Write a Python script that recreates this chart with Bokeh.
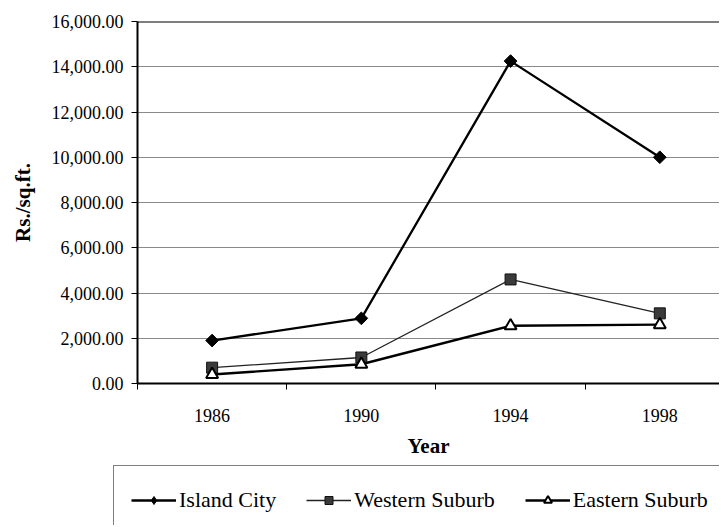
import numpy as np
from bokeh.plotting import figure
from bokeh.layouts import column, row
from bokeh.models import (Range1d, FixedTicker, NumeralTickFormatter, Span,
                          Legend, LegendItem)
from bokeh.embed import file_html
from bokeh.resources import INLINE

years = [1986, 1990, 1994, 1998]
island_city = [1900, 2880, 14250, 10000]
western_suburb = [700, 1150, 4600, 3100]
eastern_suburb = [400, 850, 2550, 2600]
series_names = ["Island City", "Western Suburb", "Eastern Suburb"]
y_ticks = [0, 2000, 4000, 6000, 8000, 10000, 12000, 14000, 16000]
year_bounds = [1984, 1988, 1992, 1996, 2000]

FONT = "Liberation Serif"
W = 719

p = figure(width=W, height=462, output_backend="svg", toolbar_location=None,
           x_range=Range1d(1984, 1999.6), y_range=Range1d(0, 16000),
           min_border_left=137, min_border_right=0, min_border_top=21,
           min_border_bottom=79)
p.outline_line_color = None
p.background_fill_color = "white"
p.border_fill_color = "white"

p.xgrid.grid_line_color = None
p.ygrid.grid_line_color = "#8a8a8a"
p.ygrid.grid_line_width = 1

# y axis
p.yaxis.ticker = FixedTicker(ticks=y_ticks)
p.yaxis.formatter = NumeralTickFormatter(format="0,0.00")
p.yaxis.axis_label = "Rs./sq.ft."
p.yaxis.axis_label_text_font = FONT
p.yaxis.axis_label_text_font_style = "bold"
p.yaxis.axis_label_text_font_size = "21px"
p.yaxis.axis_label_text_color = "black"
p.yaxis.axis_label_standoff = 14
p.yaxis.major_label_text_font = FONT
p.yaxis.major_label_text_font_size = "18px"
p.yaxis.major_label_text_color = "black"
p.yaxis.major_label_standoff = 8
p.yaxis.major_tick_out = 6
p.yaxis.major_tick_in = 0
p.yaxis.minor_tick_out = 0
p.yaxis.minor_tick_in = 0
p.yaxis.axis_line_width = 2
p.yaxis.axis_line_color = "black"
p.yaxis.major_tick_line_color = "black"

# x axis
p.xaxis.ticker = FixedTicker(ticks=years, minor_ticks=year_bounds)
p.xaxis.axis_label = "Year"
p.xaxis.axis_label_text_font = FONT
p.xaxis.axis_label_text_font_style = "bold"
p.xaxis.axis_label_text_font_size = "21px"
p.xaxis.axis_label_text_color = "black"
p.xaxis.axis_label_standoff = 9
p.xaxis.major_label_text_font = FONT
p.xaxis.major_label_text_font_size = "18px"
p.xaxis.major_label_text_color = "black"
p.xaxis.major_label_standoff = 19
p.xaxis.major_tick_out = 0
p.xaxis.major_tick_in = 0
p.xaxis.minor_tick_out = 6
p.xaxis.minor_tick_in = 0
p.xaxis.minor_tick_line_color = "black"
p.xaxis.axis_line_width = 2
p.xaxis.axis_line_color = "black"

top = Span(location=16000, dimension="width", line_color="black", line_width=2)
p.add_layout(top)

STY = [
    dict(line=dict(line_color="black", line_width=2.3),
         mark=dict(marker="square", angle=np.pi / 4, size=9,
                   fill_color="black", line_color="black")),
    dict(line=dict(line_color="#222222", line_width=1.3),
         mark=dict(marker="square", size=11, fill_color="#3a3a3a",
                   line_color="#111111", line_width=1)),
    dict(line=dict(line_color="black", line_width=2.4),
         mark=dict(marker="triangle", size=12, fill_color="white",
                   line_color="black", line_width=2)),
]
LEG_MARK = [
    dict(marker="diamond", size=14, fill_color="black", line_color="black"),
    STY[1]["mark"],
    STY[2]["mark"],
]
series = [island_city, western_suburb, eastern_suburb]

for vals, st in zip(series, STY):
    p.line(years, vals, **st["line"])
    p.scatter(years, vals, **st["mark"])

# legend strip (second figure whose frame covers it entirely);
# its ranges keep the series themselves out of view
p2 = figure(width=W, height=63, output_backend="svg", toolbar_location=None,
            x_range=Range1d(0, 1), y_range=Range1d(0, 1),
            x_axis_location=None, y_axis_location=None,
            min_border=0, min_border_left=0, min_border_right=0,
            min_border_top=0, min_border_bottom=0)
p2.outline_line_color = None
p2.grid.grid_line_color = None
p2.background_fill_color = "white"
p2.border_fill_color = "white"

items = []
for name, vals, st, lm in zip(series_names, series, STY, LEG_MARK):
    lr = p2.line(years, vals, **st["line"])
    mr = p2.scatter(years, vals, **lm)
    items.append(LegendItem(label=name, renderers=[lr, mr]))

legend = Legend(items=items, location=(113, -10), orientation="horizontal")
legend.label_text_font = "Liberation Serif, serif"
legend.label_text_font_size = "22px"
legend.label_text_color = "black"
legend.label_standoff = 3
legend.glyph_width = 45
legend.glyph_height = 20
legend.label_height = 34
legend.spacing = 30
legend.padding = 17
legend.margin = 0
legend.border_line_color = "black"
legend.border_line_width = 1
legend.background_fill_color = "white"
legend.background_fill_alpha = 1
p2.add_layout(legend)

layout = column(p, row(p2), spacing=0)
open("out.html", "w").write(file_html(layout, INLINE))
